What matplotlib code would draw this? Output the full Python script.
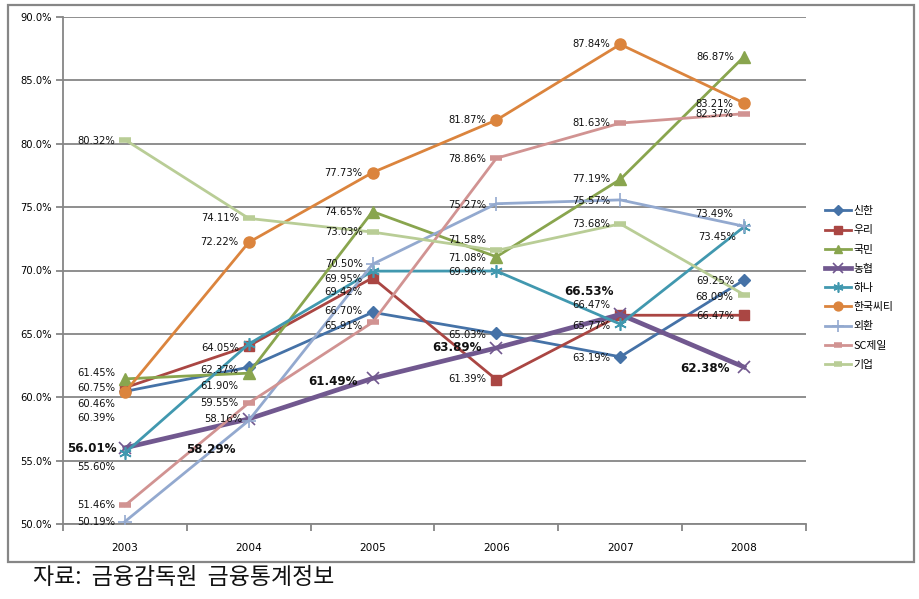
import matplotlib
matplotlib.use("Agg")
import matplotlib.pyplot as plt
import matplotlib.patches as patches
import numpy as np

plt.rcParams['font.family'] = ['DejaVu Sans']

years = ["2003", "2004", "2005", "2006", "2007", "2008"]
banks = ["신한", "우리", "국민", "농협", "하나", "한국씨티", "외환", "SC제일", "기업"]

shinhan = [60.46, 62.37, 66.70, 65.03, 63.19, 69.25]
woori = [60.75, 64.05, 69.42, 61.39, 66.47, 66.47]
kookmin = [61.45, 61.90, 74.65, 71.08, 77.19, 86.87]
nonghyup = [56.01, 58.29, 61.49, 63.89, 66.53, 62.38]
hana = [55.60, 64.20, 69.95, 69.96, 65.77, 73.45]
citi = [60.39, 72.22, 77.73, 81.87, 87.84, 83.21]
keb = [50.19, 58.16, 70.50, 75.27, 75.57, 73.49]
sc = [51.46, 59.55, 65.91, 78.86, 81.63, 82.37]
ibk = [80.32, 74.11, 73.03, 71.58, 73.68, 68.09]

series = [shinhan, woori, kookmin, nonghyup, hana, citi, keb, sc, ibk]

colors = ["#4572A7", "#AA4643", "#89A54E", "#71588F", "#4198AF",
          "#DB843D", "#93A9CF", "#D19392", "#B9CD96"]
markers = ["D", "s", "^", "x", (6, 2, 0), "o", "+", "_", "_"]
msizes = [6, 7, 8, 9, 9, 8, 10, 8, 8]

# label nudges in pixels (dx, dy), dy positive = down; None = label hidden
nudges = [
    [(-10, 13), (-10, 3), (-10, -1), (-10, 2), (-10, 1), (-10, 1)],
    [(-10, 0), (-10, 2), (-10, 14), (-10, -1), (-10, -10), (-10, 1)],
    [(-10, -6), (-10, 13), (-10, 0), (-10, 1), (-10, 0), (-10, 0)],
    [(-8, 1), (-13, 31), (-15, 3), (-15, 0), (-6, -23), (-14, 1)],
    [(-10, 14), None, (-10, 8), (-10, 1), (-10, 2), (-8, 10)],
    [(-10, 26), (-10, 0), (-10, 0), (-10, 0), (-10, 0), (-11, 1)],
    [(-10, 0), (-7, -2), (-10, 0), (-10, 1), (-10, 1), (-11, -12)],
    [(-10, 0), (-10, 0), (-10, 4), (-10, 1), (-10, 0), (-11, 0)],
    [(-10, 1), (-10, 0), (-10, 0), (-10, -10), (-10, 0), (-11, 2)],
]

fig = plt.figure(figsize=(9.2, 5.99), dpi=100)
ax = fig.add_axes([63 / 920, 1 - 524 / 599, (806 - 63) / 920, (524 - 17) / 599])

x = np.arange(1, len(years) + 1)
grid_c = "#868686"

for i, (name, vals) in enumerate(zip(banks, series)):
    lw = 3.4 if name == "농협" else 2.0
    mew = 1.0
    if markers[i] in ("x", "+") or isinstance(markers[i], tuple):
        mew = 1.2
    if markers[i] == "_":
        mew = 4.0
    ax.plot(x, vals, color=colors[i], lw=lw, marker=markers[i], ms=msizes[i],
            mew=mew, label=name, zorder=3 + i * 0.1, solid_joinstyle="miter")
    for j, v in enumerate(vals):
        nd = nudges[i][j]
        if nd is None:
            continue
        bold = name == "농협"
        ax.annotate(f"{v:.2f}%", (x[j], v), xytext=(nd[0] * 0.72, -nd[1] * 0.72),
                    textcoords="offset points", ha="right", va="center",
                    fontsize=8.6 if bold else 7.2,
                    fontweight="bold" if bold else "normal",
                    color="#111111", zorder=10)

ax.set_xlim(0.5, len(years) + 0.5)
ax.set_ylim(50, 90)
ax.set_yticks(np.arange(50, 91, 5))
ax.set_yticklabels([f"{t:.1f}%" for t in np.arange(50, 91, 5)], fontsize=7.2)
ax.yaxis.grid(True, color=grid_c, lw=1.3)
ax.set_axisbelow(True)

ax.set_xticks(np.arange(0.5, len(years) + 1, 1))
ax.set_xticklabels([])
ax.set_xticks(x, minor=True)
ax.set_xticklabels(years, minor=True, fontsize=7.6)
ax.tick_params(axis="x", which="minor", length=0, pad=14)
ax.tick_params(axis="x", which="major", length=5, width=1.3, color=grid_c)
ax.tick_params(axis="y", length=5, width=1.3, color=grid_c, pad=3)

for s in ["top", "right"]:
    ax.spines[s].set_visible(False)
for s in ["left", "bottom"]:
    ax.spines[s].set_color(grid_c)
    ax.spines[s].set_linewidth(1.3)

leg = fig.legend(loc="center left", bbox_to_anchor=(820 / 920, 1 - 288 / 599),
                 frameon=False, handlelength=2.4, labelspacing=0.85,
                 handletextpad=0.2, borderpad=0,
                 prop={"family": ["Noto Sans CJK KR", "DejaVu Sans"], "size": 7.8})
for h in leg.legend_handles:
    h.set_markersize(h.get_markersize() * 0.8)

fig.patches.append(patches.Rectangle((8 / 920, 1 - 562 / 599), 906 / 920, 557 / 599,
                                     transform=fig.transFigure, fill=False,
                                     edgecolor=grid_c, lw=1.6))

fig.text(33 / 920, 1 - 578 / 599, "자료:  금융감독원  금융통계정보",
         fontsize=16.5, va="center", ha="left",
         family=["Noto Sans CJK KR", "DejaVu Sans"], color="#111111")

fig.savefig("out.png", dpi=100, facecolor="white")
